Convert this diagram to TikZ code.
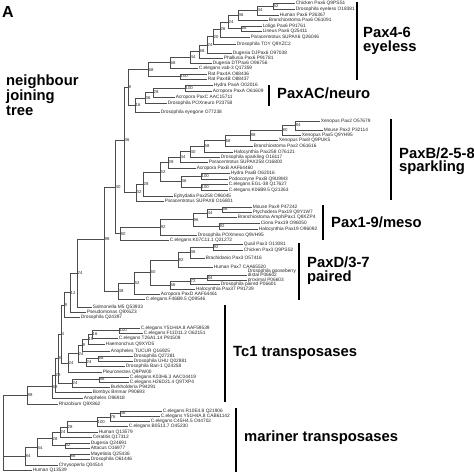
\documentclass[tikz,border=0pt]{standalone}
\usepackage{fontspec}
\setmainfont{Liberation Sans}
\newcommand\leaffont{\fontsize{4.8}{5}\selectfont}
\newcommand\bootfont{\fontsize{4.3}{5}\selectfont}
\newcommand\myBig{\fontsize{14.8}{15}\selectfont\bfseries}
\newcommand\inode[4]{\coordinate (#1) at (#2,#3); \node[boot] (#1t) at (#1) {#4};}
\newcommand\lf[4]{\node[leaf] (#1) at (#2,#3) {#4};}
\newcommand\cn[2]{\draw[br] (#1) |- (#2);}
\newcommand\cl[2]{\draw[br] (#1) |- (#2.west);}
\tikzset{
 br/.style={draw=black!70, line width=0.45pt},
 leaf/.style={anchor=west, inner sep=0.6pt, font=\leaffont, text height=3.4pt, text depth=1pt, text=black!85},
 boot/.style={anchor=west, inner sep=0.5pt, font=\bootfont, text=black!85},
 big/.style={anchor=base west, inner sep=0pt, font=\myBig},
 bar/.style={line width=1.7pt},
}
\begin{document}
\begin{tikzpicture}[x=1pt,y=-1pt]
\fill[white] (0,0) rectangle (474,475);
\path[use as bounding box] (0,0) rectangle (474,475);
% big labels
\node[big, font=\fontsize{16}{16}\selectfont\bfseries] (lA) at (2,17.5) {A};
\node[big] (t1) at (6,85) {neighbour};
\node[big] (t2) at (6,100) {joining};
\node[big] (t3) at (6,115) {tree};
\node[big] (g1a) at (363,37.5) {Pax4-6};
\node[big] (g1b) at (363,51) {eyeless};
\node[big] (g2) at (277,98) {PaxAC/neuro};
\node[big] (g3a) at (399,158) {PaxB/2-5-8};
\node[big] (g3b) at (399,171.5) {sparkling};
\node[big] (g4) at (331,227.5) {Pax1-9/meso};
\node[big] (g5a) at (307,267.5) {PaxD/3-7};
\node[big] (g5b) at (307,281.5) {paired};
\node[big] (g6) at (233,356) {Tc1 transposases};
\node[big] (g7) at (244,441) {mariner transposases};
% bars
\draw[bar] (357,2) -- (357,80);
\draw[bar] (269,85) -- (269,106);
\draw[bar] (391,119) -- (391,200);
\draw[bar] (323,205) -- (323,240);
\draw[bar] (299,243) -- (299,300);
\draw[bar] (225,305) -- (225,402);
\draw[bar] (236,408) -- (236,472);
% leaves
\lf{L1}{295}{3}{Chicken Pax6 Q9PSS1}
\lf{L2}{295}{9}{Drosophila eyeless O18381}
\lf{L3}{279}{15}{Human Pax6 P26367}
\lf{L4}{268}{20}{Branchiostoma Pax6 O61091}
\lf{L5}{262}{26}{Loligo Pax6 P91761}
\lf{L6}{262}{31}{Lineus Pax6 Q25411}
\lf{L7}{250}{37}{Paracentrotus SUPAX6 Q26046}
\lf{L8}{236}{44}{Drosophila TOY Q9XZC2}
\lf{L9}{232}{53}{Dugesia DJPax6 O97038}
\lf{L10}{223}{58}{Phallusia Pax6 P91781}
\lf{L11}{212}{63}{Dugesia DTPax6 O96756}
\lf{L12}{198}{68}{C.elegans vab-3 Q17359}
\lf{L13}{207}{74}{Rat Pax4A O88436}
\lf{L14}{207}{79}{Rat Pax4B O88437}
\lf{L15}{213}{85}{Hydra PaxA O02016}
\lf{L16}{212}{91}{Acropora PaxA O61609}
\lf{L17}{175}{97}{Acropora PaxC AAC15711}
\lf{L18}{167}{103}{Drosophila POXneuro P23758}
\lf{L19}{160}{112}{Drosophila eyegone O77238}
\lf{L20}{320}{121}{Xenopus Pax2 O57679}
\lf{L21}{323}{130}{Mouse Pax2 P32114}
\lf{L22}{301}{135}{Xenopus Pax5 Q9YH95}
\lf{L23}{278}{140}{Xenopus Pax8 Q9PUK5}
\lf{L24}{253}{146}{Branchiostoma Pax2 O61616}
\lf{L25}{233}{152}{Halocynthia Pax258 O76121}
\lf{L26}{220}{157}{Drosophila sparkling O16117}
\lf{L27}{208}{162}{Paracentrotus SUPAX258 O16800}
\lf{L28}{196}{168}{Acropora PaxB AAF64460}
\lf{L29}{230}{173}{Hydra PaxB O62016}
\lf{L30}{228}{179}{Podocoryne PaxB Q9U9M3}
\lf{L31}{228}{184}{C.elegans EGL-38 Q17627}
\lf{L32}{228}{190}{C.elegans K06B9.5 Q21263}
\lf{L33}{173}{196}{Ephydatia Pax258 O96045}
\lf{L34}{164}{201}{Paracentrotus SUPAX8 O16801}
\lf{L35}{252}{207}{Mouse Pax9 P47242}
\lf{L36}{252}{212}{Ptychodera Pax19 Q9Y1W7}
\lf{L37}{237}{217}{Branchiostoma AmphiPax1 Q9XZP4}
\lf{L38}{260}{223}{Ciona Pax19 O96050}
\lf{L39}{258}{229}{Halocynthia Pax19 O96092}
\lf{L40}{197}{235}{Drosophila POXmeso Q9VH95}
\lf{L41}{169}{240}{C.elegans K07C11.1 Q21272}
\lf{L42}{243}{244}{Quail Pax3 O13081}
\lf{L43}{243}{250}{Chicken Pax3 Q9PSS2}
\lf{L44}{205}{258}{Brachidanio Pax3 O57416}
\lf{L45}{213}{267}{Human Pax7 CAA65520}
\node[leaf] (L46a) at (247,271.3) {Drosophila gooseberry};
\lf{L46}{247}{275.5}{distal P06602}
\lf{L47}{247}{280}{proximal P06603}
\lf{L48}{220}{284.5}{Drosophila paired P06601}
\lf{L49}{195}{289.5}{Halocynthia Pax37 P91739}
\lf{L50}{160}{294.5}{Acropora PaxD AAF64461}
\lf{L51}{145}{299.5}{C.elegans F46B9.5 Q09546}
\lf{L52}{92}{307}{Salmonella M5 Q53933}
\lf{L53}{86}{312}{Pseudomonas Q9X6Z3}
\lf{L54}{80}{317}{Drosophila Q24397}
\lf{L55}{140}{328}{C.elegans Y51H4A.8 AAF59539}
\lf{L56}{143}{333}{C.elegans F11D11.2 O62151}
\lf{L57}{118}{338}{C.elegans T26A1.14 P91509}
\lf{L58}{105}{344}{Haemonchus Q9XYD5}
\lf{L59}{110}{351}{Anopheles TUCUR Q16925}
\lf{L60}{133}{356}{Drosophila Q27281}
\lf{L61}{133}{361}{Drosophila UHU Q02881}
\lf{L62}{125}{366}{Drosophila Bari-1 Q24258}
\lf{L63}{102}{372}{Pleuronectes Q9PW00}
\lf{L64}{129}{377}{C.elegans K03H6.3 AAC04419}
\lf{L65}{129}{382}{C.elegans H26D21.4 Q9TXP4}
\lf{L66}{110}{387}{Burkholderia P94291}
\lf{L67}{92}{392}{Bombyx Bmmar P90693}
\lf{L68}{83}{398}{Anopheles O96918}
\lf{L69}{58}{404}{Rhizobium Q9X862}
\lf{L70}{162}{411}{C.elegans R10E4.8 Q21906}
\lf{L71}{160}{416}{C.elegans Y51H4A.8 CAB61142}
\lf{L72}{150}{421}{C.elegans C45H4.5 O44702}
\lf{L73}{128}{426}{C.elegans B0513.7 O45230}
\lf{L74}{98}{432}{Human Q13579}
\lf{L75}{92}{437}{Ceratitis Q17312}
\lf{L76}{90}{443}{Dugesia Q24691}
\lf{L77}{90}{448}{Attacus O16977}
\lf{L78}{90}{454}{Mayetiola Q25436}
\lf{L79}{90}{459}{Drosophila O61446}
\lf{L80}{58}{465}{Chrysoperla Q04514}
\lf{L81}{32}{470}{Human Q13539}
% internal nodes
\inode{n52a}{273}{6}{52}
\inode{n44a}{257}{10.5}{44}
\inode{n36a}{238}{15.25}{36}
\inode{n68a}{241}{28.5}{68}
\inode{n24a}{228}{21.9}{24}
\inode{n26}{220}{29.4}{26}
\inode{n20}{213}{36.7}{20}
\inode{n24b}{207}{44.9}{24}
\inode{n68b}{199}{51.4}{68}
\inode{n44b}{190}{57.2}{44}
\inode{n68c}{170}{62.6}{68}
\inode{n100r}{180}{76.5}{100}
\inode{n68d}{148}{69.6}{68}
\inode{n100h}{185}{88}{100}
\inode{n28c}{153}{92.5}{28}
\inode{n36d}{145}{97.75}{36}
\inode{n16}{135}{104.9}{16}
\inode{n8}{128}{87.25}{8}
\inode{n36c}{124}{139.9}{36}
\inode{n84b}{295}{125.5}{84}
\inode{n80b}{282}{130.25}{80}
\inode{n88b}{250}{135.1}{88}
\inode{n68e}{225}{140.6}{68}
\inode{n58}{204}{146.3}{58}
\inode{n40b}{190}{151.6}{40}
\inode{n44c}{180}{156.8}{44}
\inode{n28a}{168}{162.4}{28}
\inode{n100a}{201}{176}{100}
\inode{n100b}{201}{187}{100}
\inode{n36b}{181}{181.5}{36}
\inode{n52a2}{160}{172}{52}
\inode{n28b}{143}{184}{28}
\inode{n32}{136}{192.5}{32}
\inode{n56p}{222}{209.5}{56}
\inode{n44p}{207}{213.25}{44}
\inode{n92p}{219}{226}{92}
\inode{n96p}{193}{219.6}{96}
\inode{n92q}{160}{227.3}{92}
\inode{n80}{120}{233.7}{80}
\inode{n40}{115}{186.8}{40}
\inode{n92d}{213}{247}{92}
\inode{n36p}{190}{252.5}{36}
\inode{n92e}{178}{259.75}{92}
\inode{n84d}{207}{277.75}{84}
\inode{n72}{190}{281.1}{72}
\inode{n56d}{170}{285.3}{56}
\inode{n60}{150}{272.5}{60}
\inode{n52d}{134}{283.5}{52}
\inode{n48}{118}{291.5}{48}
\inode{n98}{104}{239.15}{98}
\inode{n24c}{77}{273.1}{24}
\inode{n12}{70}{292.5}{12}
\inode{n9}{64}{304.75}{9}
\inode{n100T}{119}{330.5}{100}
\inode{n16T}{92}{334.25}{16}
\inode{n15}{88}{339.1}{15}
\inode{n8T}{82}{345}{8}
\inode{n68D}{98}{358.5}{68}
\inode{n24g}{86}{362.25}{24}
\inode{n24d}{78}{353.6}{24}
\inode{n24e}{68}{362.8}{24}
\inode{n4}{61}{333.8}{4}
\inode{n96}{99}{379.5}{96}
\inode{n24f}{72}{383.25}{24}
\inode{n8b}{58}{358.5}{8}
\inode{n28}{55}{375.25}{28}
\inode{n68}{52}{386.6}{68}
\inode{n88}{27}{395.3}{88}
\inode{n36m}{120}{413.5}{36}
\inode{n76}{110}{417.25}{76}
\inode{n100m}{97}{421.6}{100}
\inode{n28m}{67}{426.8}{28}
\inode{n24m}{60}{431.9}{24}
\inode{n32m}{65}{445.5}{32}
\inode{n28m2}{52}{438.7}{28}
\inode{n88m}{70}{456.5}{88}
\inode{n64}{37}{447.6}{64}
\inode{n84m}{25}{456.3}{84}
\coordinate (root) at (3,432.6);
% connectors
\cl{n52a}{L1} \cl{n52a}{L2}
\cn{n44a}{n52a} \cl{n44a}{L3}
\cn{n36a}{n44a} \cl{n36a}{L4}
\cl{n68a}{L5} \cl{n68a}{L6}
\cn{n24a}{n36a} \cn{n24a}{n68a}
\cn{n26}{n24a} \cl{n26}{L7}
\cn{n20}{n26} \cl{n20}{L8}
\cn{n24b}{n20} \cl{n24b}{L9}
\cn{n68b}{n24b} \cl{n68b}{L10}
\cn{n44b}{n68b} \cl{n44b}{L11}
\cn{n68c}{n44b} \cl{n68c}{L12}
\cl{n100r}{L13} \cl{n100r}{L14}
\cn{n68d}{n68c} \cn{n68d}{n100r}
\cl{n100h}{L15} \cl{n100h}{L16}
\cn{n28c}{n100h} \cl{n28c}{L17}
\cn{n36d}{n28c} \cl{n36d}{L18}
\cn{n16}{n36d} \cl{n16}{L19}
\cn{n8}{n68d} \cn{n8}{n16}
\cn{n36c}{n8} \cn{n36c}{n32}
\cl{n84b}{L20} \cl{n84b}{L21}
\cn{n80b}{n84b} \cl{n80b}{L22}
\cn{n88b}{n80b} \cl{n88b}{L23}
\cn{n68e}{n88b} \cl{n68e}{L24}
\cn{n58}{n68e} \cl{n58}{L25}
\cn{n40b}{n58} \cl{n40b}{L26}
\cn{n44c}{n40b} \cl{n44c}{L27}
\cn{n28a}{n44c} \cl{n28a}{L28}
\cl{n100a}{L29} \cl{n100a}{L30}
\cl{n100b}{L31} \cl{n100b}{L32}
\cn{n36b}{n100a} \cn{n36b}{n100b}
\cn{n52a2}{n28a} \cn{n52a2}{n36b}
\cn{n28b}{n52a2} \cl{n28b}{L33}
\cn{n32}{n28b} \cl{n32}{L34}
\cl{n56p}{L35} \cl{n56p}{L36}
\cn{n44p}{n56p} \cl{n44p}{L37}
\cl{n92p}{L38} \cl{n92p}{L39}
\cn{n96p}{n44p} \cn{n96p}{n92p}
\cn{n92q}{n96p} \cl{n92q}{L40}
\cn{n80}{n92q} \cl{n80}{L41}
\cn{n40}{n36c} \cn{n40}{n80}
\cl{n92d}{L42} \cl{n92d}{L43}
\cn{n36p}{n92d} \cl{n36p}{L44}
\cn{n92e}{n36p} \cl{n92e}{L45}
\cl{n84d}{L46} \cl{n84d}{L47}
\cn{n72}{n84d} \cl{n72}{L48}
\cn{n56d}{n72} \cl{n56d}{L49}
\cn{n60}{n92e} \cn{n60}{n56d}
\cn{n52d}{n60} \cl{n52d}{L50}
\cn{n48}{n52d} \cl{n48}{L51}
\cn{n98}{n40} \cn{n98}{n48}
\cn{n24c}{n98} \cl{n24c}{L52}
\cn{n12}{n24c} \cl{n12}{L53}
\cn{n9}{n12} \cl{n9}{L54}
\cl{n100T}{L55} \cl{n100T}{L56}
\cn{n16T}{n100T} \cl{n16T}{L57}
\cn{n15}{n16T} \cl{n15}{L58}
\cn{n8T}{n15} \cl{n8T}{L59}
\cl{n68D}{L60} \cl{n68D}{L61}
\cn{n24g}{n68D} \cl{n24g}{L62}
\cn{n24d}{n8T} \cn{n24d}{n24g}
\cn{n24e}{n24d} \cl{n24e}{L63}
\cn{n4}{n9} \cn{n4}{n24e}
\cl{n96}{L64} \cl{n96}{L65}
\cn{n24f}{n96} \cl{n24f}{L66}
\cn{n8b}{n4} \cn{n8b}{n24f}
\cn{n28}{n8b} \cl{n28}{L67}
\cn{n68}{n28} \cl{n68}{L68}
\cn{n88}{n68} \cl{n88}{L69}
\cl{n36m}{L70} \cl{n36m}{L71}
\cn{n76}{n36m} \cl{n76}{L72}
\cn{n100m}{n76} \cl{n100m}{L73}
\cn{n28m}{n100m} \cl{n28m}{L74}
\cn{n24m}{n28m} \cl{n24m}{L75}
\cl{n32m}{L76} \cl{n32m}{L77}
\cn{n28m2}{n24m} \cn{n28m2}{n32m}
\cl{n88m}{L78} \cl{n88m}{L79}
\cn{n64}{n28m2} \cn{n64}{n88m}
\cn{n84m}{n64} \cl{n84m}{L80}
\cn{root}{n88} \cn{root}{n84m} \cl{root}{L81}
\end{tikzpicture}
\end{document}
